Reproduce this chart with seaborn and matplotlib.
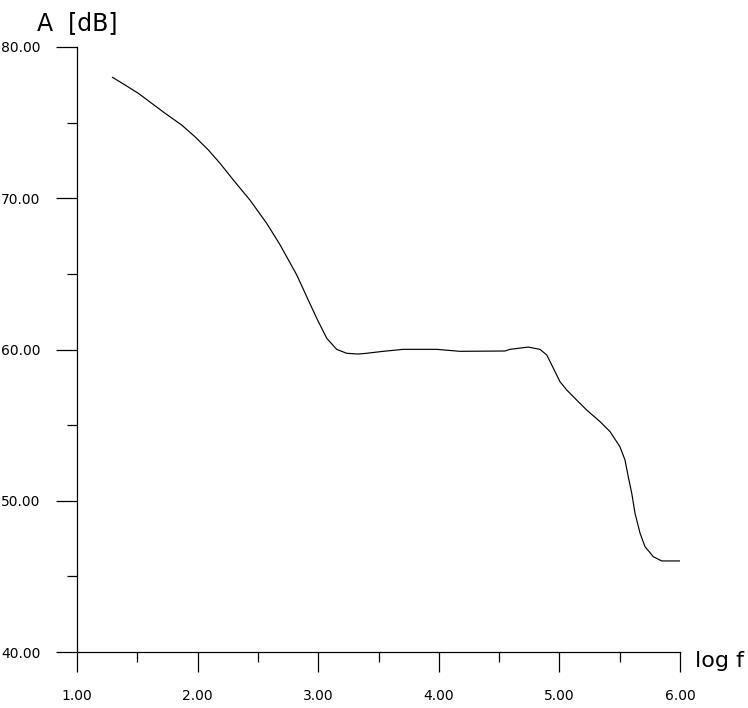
import matplotlib
matplotlib.use("Agg")
import matplotlib.pyplot as plt
import seaborn as sns
import pandas as pd

# ---- data ----
log_f = [1.293, 1.398, 1.508, 1.619, 1.730, 1.868, 1.978, 2.089, 2.186, 2.296,
         2.434, 2.573, 2.683, 2.822, 2.905, 2.988, 3.071, 3.153, 3.236, 3.332,
         3.402, 3.540, 3.706, 3.983, 4.176, 4.549, 4.590, 4.742, 4.839, 4.895,
         4.950, 5.005, 5.061, 5.143, 5.226, 5.337, 5.420, 5.502, 5.544, 5.571,
         5.600, 5.627, 5.669, 5.710, 5.779, 5.848, 6.000]
a_db = [78.00, 77.49, 76.94, 76.28, 75.62, 74.84, 74.07, 73.19, 72.31, 71.21,
        69.88, 68.34, 66.93, 64.93, 63.49, 62.06, 60.74, 60.01, 59.75, 59.70,
        59.75, 59.88, 60.01, 60.01, 59.88, 59.90, 60.01, 60.16, 60.01, 59.64,
        58.76, 57.87, 57.32, 56.66, 56.00, 55.23, 54.57, 53.57, 52.69, 51.59,
        50.49, 49.17, 47.85, 46.96, 46.30, 46.02, 46.02]

x_ticks = [1.0, 2.0, 3.0, 4.0, 5.0, 6.0]
x_minor = [1.5, 2.5, 3.5, 4.5, 5.5]
y_ticks = [40.0, 50.0, 60.0, 70.0, 80.0]
y_minor = [45.0, 55.0, 65.0, 75.0]
x_tick_labels = ["1.00", "2.00", "3.00", "4.00", "5.00", "6.00"]
y_tick_labels = ["40.00", "50.00", "60.00", "70.00", "80.00"]
x_label = "log f"
y_label = "A [dB]"

sns.set_style("ticks")
plt.rcParams["font.family"] = ["DejaVu Sans"]

fig = plt.figure(figsize=(7.48, 7.08), dpi=100)
ax = fig.add_axes([77 / 748, 1 - 652 / 708, (680 - 77) / 748, (652 - 47) / 708])

df = pd.DataFrame({"log_f": log_f, "A": a_db})
sns.lineplot(data=df, x="log_f", y="A", ax=ax, color="black", linewidth=0.85,
             estimator=None, sort=False)

ax.set_xlim(1.0, 6.0)
ax.set_ylim(40.0, 80.0)
ax.set_xticks(x_ticks)
ax.set_xticks(x_minor, minor=True)
ax.set_yticks(y_ticks)
ax.set_yticks(y_minor, minor=True)
ax.set_xticklabels(x_tick_labels)
ax.set_yticklabels(y_tick_labels)
ax.set_xlabel("")
ax.set_ylabel("")

for s in ["top", "right"]:
    ax.spines[s].set_visible(False)
for s in ["left", "bottom"]:
    ax.spines[s].set_linewidth(0.9)
    ax.spines[s].set_color("black")

ax.tick_params(axis="x", which="major", direction="out", length=14.4, width=0.9,
               pad=12.5, labelsize=10, colors="black")
ax.tick_params(axis="x", which="minor", direction="out", length=7.2, width=0.9,
               colors="black")
ax.tick_params(axis="y", which="major", direction="out", length=15, width=0.9,
               pad=11.5, labelsize=10, colors="black")
ax.tick_params(axis="y", which="minor", direction="out", length=7.2, width=0.9,
               colors="black")

fig.text(37 / 748, 1 - 30 / 708, "A  [dB]", fontsize=17, color="black",
         ha="left", va="baseline")
fig.text(695 / 748, 1 - 667 / 708, "log f", fontsize=16, color="black",
         ha="left", va="baseline")

fig.savefig("out.png", dpi=100)
